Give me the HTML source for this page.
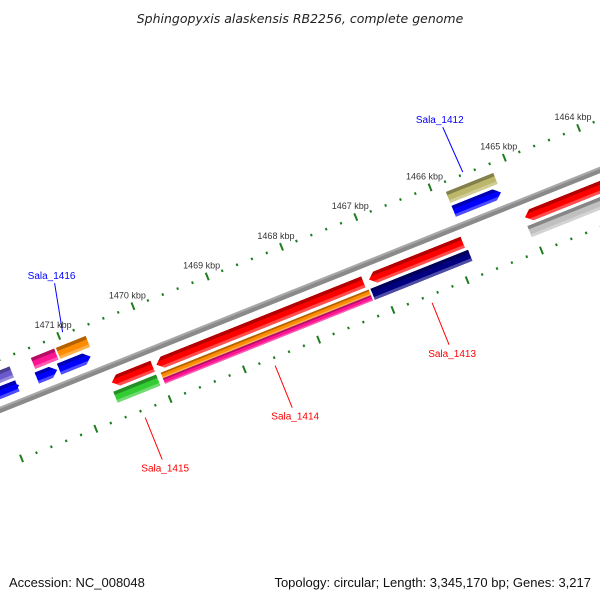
<!DOCTYPE html>
<html><head><meta charset="utf-8"><style>
body{margin:0;background:#fff}
svg{display:block;font-family:"Liberation Sans",sans-serif}
</style></head><body>
<svg id="map" width="600" height="600" viewBox="0 0 600 600">
<text x="300" y="23" text-anchor="middle" font-size="12.5" font-style="italic" fill="#222" font-family="DejaVu Sans, sans-serif">Sphingopyxis alaskensis RB2256, complete genome</text>
<text x="9" y="587" font-size="13" fill="#111">Accession: NC_008048</text>
<text x="591" y="587" text-anchor="end" font-size="13" fill="#111">Topology: circular; Length: 3,345,170 bp; Genes: 3,217</text>
<g id="rot" transform="translate(0,410) rotate(-21.8)"></g>
<g id="labels"></g>
</svg>
<script>
// ticks (kbp)
const tickKbp = [1472, 1471, 1470, 1469, 1468, 1467, 1466, 1465, 1464, 1463];
// features
const featNames = ['f1','f2','f3','f4','f5','f6','f7','f8','f9','f10','f11','f12','f13','f14','f15','f16','f17','f18'];
const featStart = [391, 162, 114, 559, 112, 389, 558, 163, 163, 495, 46, 70, -30, 495, 48, 75, -30, -30];
const featEnd   = [492, 385, 158, 720, 158, 494, 720, 387, 387, 546, 68, 104, 27, 546, 73, 107, 25, 25];
const featLane  = ['i1','i1','i1','i1','i2','i2','i2','i2a','i2b','o1','o1','o1','o1','o2','o2','o2','o2','o1x'];
const featColor = ['#ff0000','#ff0000','#ff0000','#ff0000','#33cc33','#000080','#c0c0c0','#ff8c00','#ff1493','#0000ff','#0000ff','#0000ff','#0000ff','#bdb76b','#ff1493','#ff8c00','#6a5acd','#0000ff'];
const featDir   = [-1,-1,-1,-1,0,0,0,0,0,1,1,1,1,0,0,0,0,0];
// gene labels
const geneNames = ['Sala_1412','Sala_1416','Sala_1413','Sala_1414','Sala_1415'];
const geneColor = ['#0000ff','#0000ff','#ff0000','#ff0000','#ff0000'];
const geneU = [518, 87, 441, 272, 132];

const NS='http://www.w3.org/2000/svg';
const rot=document.getElementById('rot'), lab=document.getElementById('labels');
const C=Math.cos(-21.8*Math.PI/180), S=Math.sin(-21.8*Math.PI/180);
function uOfKbp(k){return 482+(1466-k)*80;}
function toScreen(u,v){return [u*C - v*S, 410 + u*S + v*C];}
const laneMap={o2:[-37,12],o1:[-22,12],o1x:[-22,12],i1:[10,12],i2:[25,12],i2a:[25,6],i2b:[31,6]};
function shade(hex,f){let n=parseInt(hex.slice(1),16);let r=n>>16,g=(n>>8)&255,b=n&255;
 const m=x=>Math.max(0,Math.min(255,Math.round(f<1?x*f:x+(255-x)*(f-1))));return `rgb(${m(r)},${m(g)},${m(b)})`;}
function mk(tag,attrs,parent){const e=document.createElementNS(NS,tag);for(const k in attrs)e.setAttribute(k,attrs[k]);parent.appendChild(e);return e;}

// backbone
let bb=mk('rect',{x:-100,y:-3,width:900,height:6,fill:'#8a8a8a'},rot);


let bb2=mk('rect',{x:-100,y:-3,width:900,height:2,fill:'#a8a8a8'},rot);



// ticks
const tg='#1e7d1e';
for(let i=0;i<tickKbp.length;i++){
 const k=tickKbp[i];const u=uOfKbp(k);
 for(const vc of [-47,53]){
  let t=mk('rect',{x:u-1,y:vc-4,width:2,height:8,fill:tg},rot);
  
  
  for(let j=1;j<5;j++){
   let d=mk('rect',{x:u+j*16-1,y:vc-1,width:2,height:2.5,fill:tg},rot);
   
   
  }
 }
 const p=toScreen(u,-62);
 let tx=mk('text',{x:p[0],y:p[1]+6,'text-anchor':'middle','font-size':'9',fill:'#333'},lab);
 tx.textContent=k+' kbp';
 
 
}

// features
for(let i=0;i<featStart.length;i++){
 const [v0,h]=laneMap[featLane[i]];const a=featStart[i],b=featEnd[i],col=featColor[i],d=featDir[i];
 const hl=7;let pts;
 if(d===1)pts=[[a,v0],[b-hl,v0],[b,v0+h/2],[b-hl,v0+h],[a,v0+h]];
 else if(d===-1)pts=[[a+hl,v0],[b,v0],[b,v0+h],[a+hl,v0+h],[a,v0+h/2]];
 else pts=[[a,v0],[b,v0],[b,v0+h],[a,v0+h]];
 const g=mk('g',{},rot);
 
 
 const cp='cp'+i;const clip=mk('clipPath',{id:cp},g);
 mk('polygon',{points:pts.map(p=>p.join(',')).join(' ')},clip);
 mk('rect',{x:a-1,y:v0,width:b-a+2,height:h,fill:col,'clip-path':`url(#${cp})`},g);
 mk('rect',{x:a-1,y:v0,width:b-a+2,height:h*0.3,fill:shade(col,0.7),'clip-path':`url(#${cp})`},g);
 mk('rect',{x:a-1,y:v0+h*0.75,width:b-a+2,height:h*0.25,fill:shade(col,1.3),'clip-path':`url(#${cp})`},g);
}

// gene labels
for(let i=0;i<geneNames.length;i++){
 const out=geneColor[i]==='#0000ff';
 const p1=toScreen(geneU[i], out?-49:61);
 const p2=out?[p1[0]-(i===0?20:8), p1[1]-(i===0?45:49)]:[p1[0]+17, p1[1]+42];
 let ln=mk('line',{x1:p1[0],y1:p1[1],x2:p2[0],y2:p2[1],stroke:geneColor[i],'stroke-width':1},lab);
 
 
 let t=mk('text',{x:p2[0]+(out?-3:3),y:p2[1]+(out?-4:12),'text-anchor':'middle','font-size':'10',fill:geneColor[i]},lab);
 t.textContent=geneNames[i];
 
 
}
</script>
</body></html>
